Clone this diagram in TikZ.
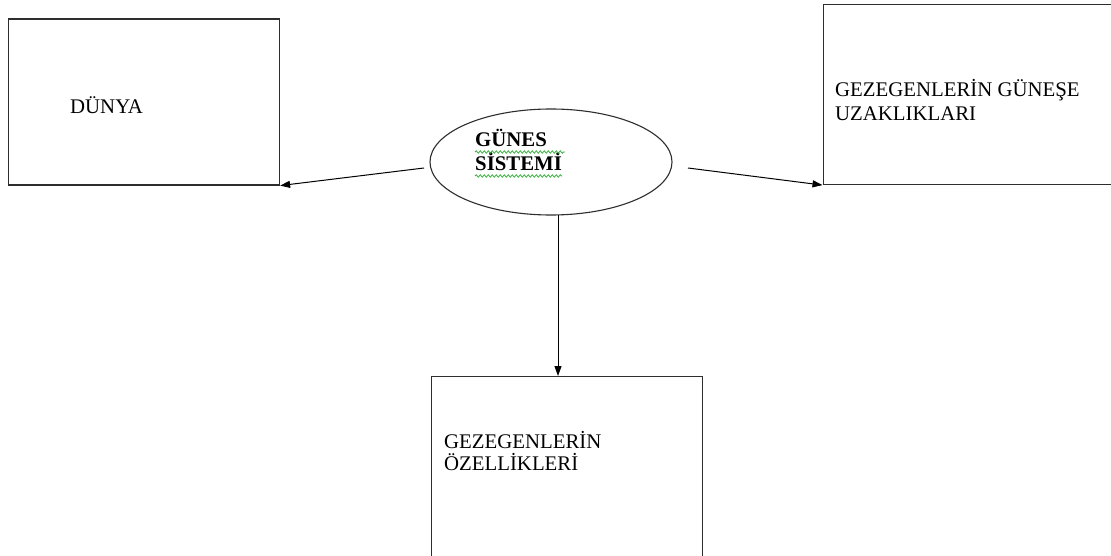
\documentclass[tikz,border=0pt]{standalone}
\usepackage{fontspec}
\setmainfont{Liberation Serif}
\usetikzlibrary{arrows.meta,shapes.geometric,decorations.pathmorphing}
\definecolor{edge}{HTML}{2E2E2E}
\definecolor{squiggle}{HTML}{3CB043}
\begin{document}
\begin{tikzpicture}[x=1pt,y=-1pt,
  boxnode/.style={draw=edge,line width=1.1pt,rectangle,inner sep=0pt,anchor=north west},
  label/.style={anchor=base west,inner sep=0pt,font=\fontsize{20.8}{24}\selectfont},
  link/.style={draw=black,line width=1pt,-{Triangle[length=10pt,width=7pt]}},
  spell/.style={draw=squiggle,line width=0.8pt,decorate,
    decoration={snake,amplitude=1.2pt,segment length=4pt}}]
  \useasboundingbox (0,0) rectangle (1111,556);
  \clip (0,0) rectangle (1111,556);
  \fill[white] (0,0) rectangle (1111,556);

  % boxes
  \node[boxnode,minimum width=271pt,minimum height=166pt] (dunya) at (8,18.5) {};
  \node[boxnode,minimum width=300pt,minimum height=180pt] (uzak) at (822.5,4) {};
  \node[boxnode,minimum width=271.5pt,minimum height=190pt] (ozel) at (430.5,376) {};

  % central ellipse
  \node[draw=edge,line width=1.1pt,ellipse,minimum width=242pt,minimum height=106pt,inner sep=0pt] (sun) at (551,162) {};

  % texts
  \node[label] (t1) at (70,114) {DÜNYA};
  \node[label] (t2) at (835,97) {GEZEGENLERİN GÜNEŞE};
  \node[label] (t3) at (835,121) {UZAKLIKLARI};
  \node[label] (t4) at (444,448) {GEZEGENLERİN};
  \node[label] (t5) at (444,470) {ÖZELLİKLERİ};
  \node[label,font=\fontsize{20.8}{24}\selectfont\bfseries] (t6) at (475,147) {GÜNES};
  \node[label,font=\fontsize{20.8}{24}\selectfont\bfseries] (t7) at (475,171) {SİSTEMİ};

  % spelling marks under the bold title
  \draw[spell] (t6.base west) ++(0,5) -- ++(90,0);
  \draw[spell] (t7.base west) ++(0,5) -- ++(87,0);

  % connectors
  \coordinate (sl) at (424,168);
  \coordinate (sr) at (688,168);
  \coordinate (sb) at (558,215);
  \draw[link] (sl) -- (dunya.south east);
  \draw[link] (sr) -- (uzak.south west);
  \draw[link] (sb) -- (sb |- ozel.north);
\end{tikzpicture}
\end{document}
